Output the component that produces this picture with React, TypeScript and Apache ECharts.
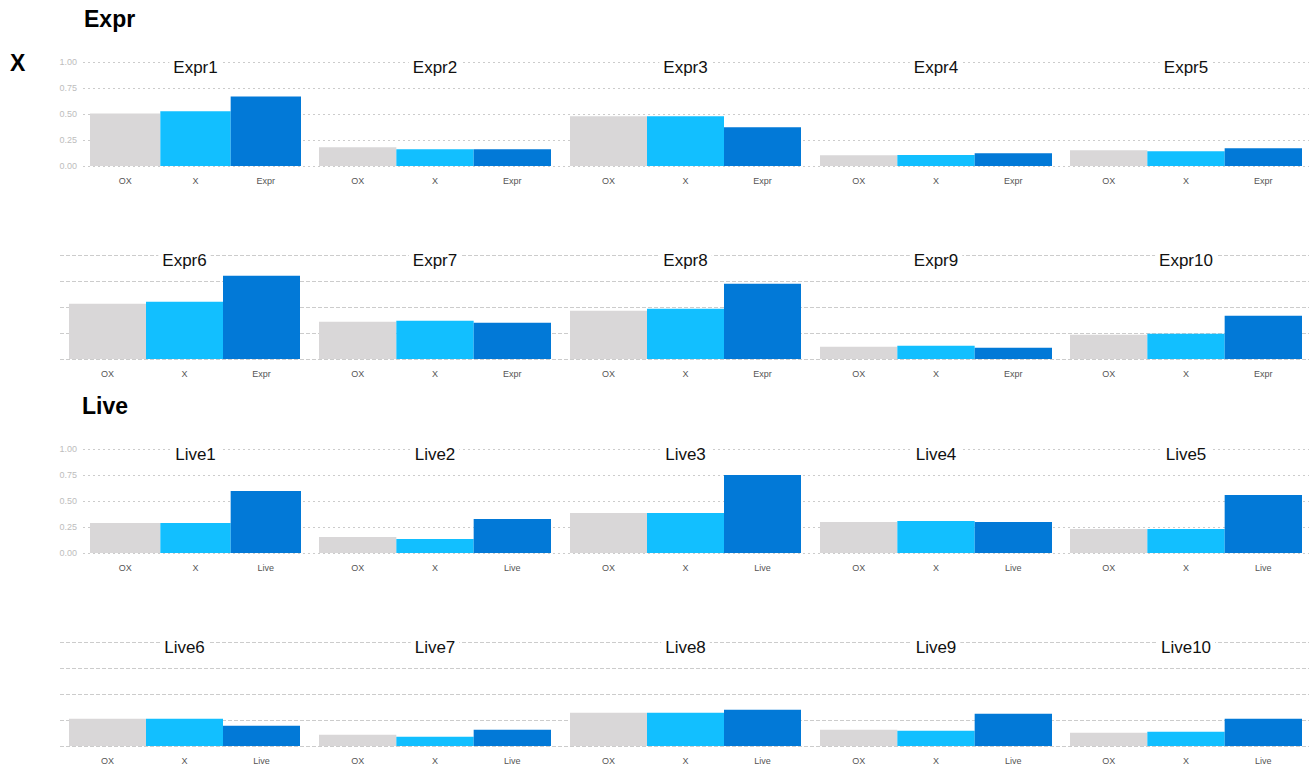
import React, { useEffect, useRef } from "react";
import * as echarts from "echarts";

const exprCategories = ["OX", "X", "Expr"];
const liveCategories = ["OX", "X", "Live"];
const exprPanels = ["Expr1", "Expr2", "Expr3", "Expr4", "Expr5", "Expr6", "Expr7", "Expr8", "Expr9", "Expr10"];
const livePanels = ["Live1", "Live2", "Live3", "Live4", "Live5", "Live6", "Live7", "Live8", "Live9", "Live10"];

const exprOX = [0.505, 0.18, 0.478, 0.103, 0.151, 0.532, 0.359, 0.464, 0.118, 0.234];
const exprX = [0.527, 0.16, 0.478, 0.106, 0.141, 0.551, 0.368, 0.483, 0.128, 0.243];
const exprExpr = [0.668, 0.16, 0.372, 0.122, 0.17, 0.8, 0.349, 0.724, 0.109, 0.416];

const liveOX = [0.288, 0.154, 0.385, 0.298, 0.231, 0.262, 0.109, 0.32, 0.157, 0.128];
const liveX = [0.288, 0.135, 0.385, 0.308, 0.231, 0.262, 0.09, 0.32, 0.147, 0.138];
const liveLive = [0.596, 0.327, 0.75, 0.298, 0.558, 0.195, 0.157, 0.349, 0.311, 0.262];

const yTicks = [0, 0.25, 0.5, 0.75, 1];

const BAR_COLORS = ["#D9D7D8", "#12BFFF", "#0279D7"];
const FONT = "'Liberation Sans', Arial, Helvetica, sans-serif";

export default function App() {
  const ref = useRef<HTMLDivElement>(null);

  useEffect(() => {
    if (!ref.current) return;
    const chart = echarts.init(ref.current, undefined, { renderer: "svg" });

    const W = 1309;
    const PH = 104;
    const rowTops = [62, 255, 449, 642];
    const spansFor = (row: number) => [
      row % 2 === 0 ? [90, 301] : [69, 300],
      [319, 551],
      [570, 801],
      [820, 1052],
      [1070, 1302],
    ];

    const grids: any[] = [];
    const xAxes: any[] = [];
    const yAxes: any[] = [];
    const series: any[] = [];
    const graphics: any[] = [];

    // background grids with continuous dashed gridlines per row
    rowTops.forEach((top, r) => {
      const left = r % 2 === 0 ? 83 : 60;
      const idx = grids.length;
      grids.push({ left, top, width: W - left, height: PH });
      xAxes.push({ gridIndex: idx, type: "value", show: false, min: 0, max: 1 });
      yAxes.push({
        gridIndex: idx,
        type: "value",
        min: yTicks[0],
        max: yTicks[yTicks.length - 1],
        interval: yTicks[1] - yTicks[0],
        axisLine: { show: false },
        axisTick: { show: false },
        axisLabel: {
          show: r % 2 === 0,
          formatter: (v: number) => v.toFixed(2),
          fontSize: 9,
          color: "#bdbdbd",
          margin: 6,
          fontFamily: FONT,
        },
        splitLine: {
          show: true,
          lineStyle: { color: "#cccccc", width: 1, type: r % 2 === 0 ? [2, 3] : [4, 2] },
        },
      });
    });

    const groups = [
      { cats: exprCategories, names: exprPanels, vals: [exprOX, exprX, exprExpr], rows: [0, 1] },
      { cats: liveCategories, names: livePanels, vals: [liveOX, liveX, liveLive], rows: [2, 3] },
    ];

    groups.forEach((g) => {
      g.names.forEach((name, i) => {
        const row = g.rows[Math.floor(i / 5)];
        const col = i % 5;
        const span = spansFor(row)[col];
        const idx = grids.length;
        grids.push({ left: span[0], top: rowTops[row], width: span[1] - span[0], height: PH });
        xAxes.push({
          gridIndex: idx,
          type: "category",
          data: g.cats,
          axisLine: { show: false },
          axisTick: { show: false },
          splitLine: { show: false },
          axisLabel: { fontSize: 9, color: "#555555", margin: 10, fontFamily: FONT },
        });
        yAxes.push({ gridIndex: idx, type: "value", min: 0, max: 1, show: false });
        series.push({
          type: "bar",
          xAxisIndex: idx,
          yAxisIndex: idx,
          barCategoryGap: "0%",
          data: g.vals.map((arr, k) => ({ value: arr[i], itemStyle: { color: BAR_COLORS[k] } })),
        });
        graphics.push({
          type: "text",
          x: (span[0] + span[1]) / 2,
          y: rowTops[row] + 5,
          z: 10,
          style: {
            text: name,
            fontSize: 17,
            fontFamily: FONT,
            fill: "#111111",
            align: "center",
            verticalAlign: "middle",
            backgroundColor: "#ffffff",
            padding: [1, 4],
          },
        });
      });
    });

    const bigTitle = (text: string, x: number, y: number) => ({
      type: "text",
      x,
      y,
      style: {
        text,
        fontSize: 23,
        fontWeight: "bold",
        fontFamily: FONT,
        fill: "#000000",
        align: "left",
        verticalAlign: "middle",
      },
    });
    graphics.push(bigTitle("Expr", 84, 18.5));
    graphics.push(bigTitle("X", 10, 63));
    graphics.push(bigTitle("Live", 82, 406));

    chart.setOption({
      animation: false,
      backgroundColor: "#ffffff",
      grid: grids,
      xAxis: xAxes,
      yAxis: yAxes,
      series,
      graphic: graphics,
    });

    return () => chart.dispose();
  }, []);

  return (
    <div
      ref={ref}
      style={{ position: "fixed", left: 0, top: 0, width: 1309, height: 770, background: "#fff" }}
    />
  );
}
